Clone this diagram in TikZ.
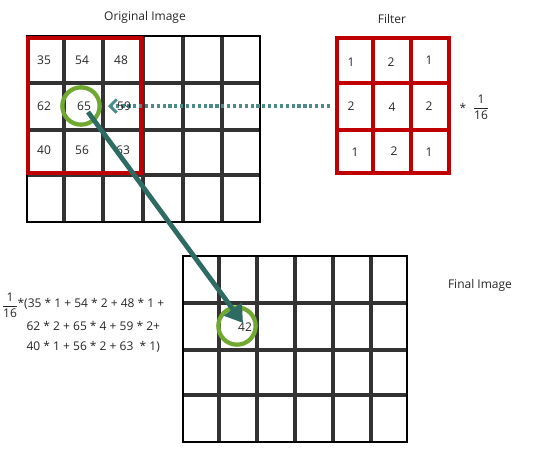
\documentclass[tikz,border=0pt]{standalone}
\usepackage{fontspec}
\setmainfont{Open Sans}
\usetikzlibrary{arrows.meta}

\definecolor{filtred}{HTML}{C00000}
\definecolor{ringgreen}{HTML}{70A832}
\definecolor{arrowteal}{HTML}{2E6B62}
\definecolor{dotteal}{HTML}{4F8A8B}

\tikzset{
    txt/.style={font=\fontsize{9}{11}\selectfont, text=black!85, inner sep=1pt},
    gridline/.style={black!80, line width=2.5pt},
    gridframe/.style={black, line width=2.2pt},
    filtline/.style={filtred, line width=3pt},
    ring/.style={circle, draw=ringgreen, line width=3.2pt, minimum size=28pt, inner sep=0pt},
}

\begin{document}
\begin{tikzpicture}[x=0.75pt, y=-0.75pt]
    \useasboundingbox (0,0) rectangle (543,457);
    % Original image grid (6 x 4).
        \foreach \x in {64,103,143,183,222} \draw[gridline] (\x,36) -- (\x,222);
        \foreach \y in {83,130,175} \draw[gridline] (27,\y) -- (260,\y);
        \draw[gridframe] (27,36) rectangle (260,222);
        \draw[filtred, line width=2.5pt] (28,38) rectangle (141,173);
    % Filter grid (3 x 3).
        \foreach \x in {373,411} \draw[filtline] (\x,38) -- (\x,173);
        \foreach \y in {83,130} \draw[filtline] (337,\y) -- (449,\y);
        \draw[filtline] (337,38) rectangle (449,173);
    % Final image grid (6 x 4).
        \foreach \x in {219,257,295,333,371} \draw[gridline] (\x,256) -- (\x,442);
        \foreach \y in {303,350,395} \draw[gridline] (183,\y) -- (407,\y);
        \draw[gridframe] (183,256) rectangle (407,442);
    % The dotted arrow from the filter to the window.
        \coordinate (dotstart) at (330,106);
        \coordinate (dotend) at (108,106);
        \draw[dotteal, line width=2.6pt, dash pattern=on 2.4pt off 2pt,
              -{Straight Barb[length=5pt, width=10pt, line width=2.2pt]}] (dotstart) -- (dotend);
    % Below nodes are the labels.
        \node[txt] (origtitle) at (145,17) {Original Image};
        \node[txt] (filttitle) at (392,19) {Filter};
        \node[txt] (finaltitle) at (480,285) {Final Image};
        \foreach \n/\x/\y/\v in {11/44/60/35, 12/82/60/54, 13/121/60/48,
                                 21/44/106/62, 22/84/106/65, 23/124/106/59,
                                 31/44/150/40, 32/82/150/56, 33/123/150/63}
            \node[txt] (o\n) at (\x,\y) {\v};
        \foreach \n/\x/\y/\v in {11/351/62/1, 12/391/62/2, 13/429/60/1,
                                 21/351/106/2, 22/392/107/4, 23/429/106/2,
                                 31/355/152/1, 32/394/151/2, 33/429/152/1}
            \node[txt] (f\n) at (\x,\y) {\v};
        \node[txt] (star) at (463,108) {*};
        \node[txt] (scale) at (481,107) {$\displaystyle\frac{\mbox{1}}{\mbox{16}}$};
        \node[txt] (res) at (245,327) {42};
    % The worked sum on the left.
        \node[txt] (sumfrac) at (10,305) {$\displaystyle\frac{\mbox{1}}{\mbox{16}}$};
        \node[txt, anchor=west] (sum1) at (16,304) {*(35 * 1 + 54 * 2 + 48 * 1 +};
        \node[txt, anchor=west] (sum2) at (25,326) {62 * 2 + 65 * 4 + 59 * 2+};
        \node[txt, anchor=west] (sum3) at (25,347) {40 * 1 + 56 * 2 + 63 \ * 1)};
    % Rings round the centre pixel and the result.
        \node[ring] (srcring) at (81,106) {};
        \node[ring] (dstring) at (237,326) {};
    % This draws the big arrow.
        \coordinate (tail) at (88,112);
        \coordinate (head) at (243,323);
        \draw[arrowteal, line width=3.6pt, -{Triangle[length=13pt, width=16pt]}] (tail) -- (head);
\end{tikzpicture}
\end{document}
